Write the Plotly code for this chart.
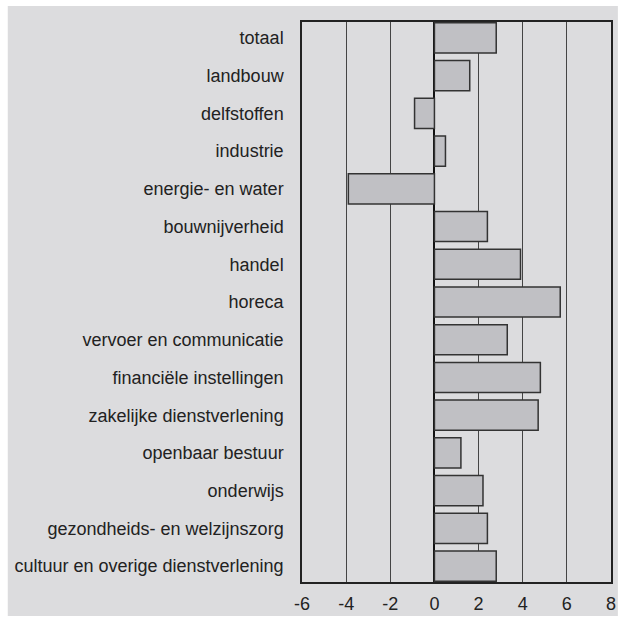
import plotly.graph_objects as go

categories = ["totaal", "landbouw", "delfstoffen", "industrie", "energie- en water",
              "bouwnijverheid", "handel", "horeca", "vervoer en communicatie",
              "financiële instellingen", "zakelijke dienstverlening", "openbaar bestuur",
              "onderwijs", "gezondheids- en welzijnszorg", "cultuur en overige dienstverlening"]
values = [2.8, 1.6, -0.9, 0.5, -3.9, 2.4, 3.9, 5.7, 3.3, 4.8, 4.7, 1.2, 2.2, 2.4, 2.8]
x_ticks = [-6, -4, -2, 0, 2, 4, 6, 8]

W, H = 621, 619
L, R, T, B = 302, 5, 22, 35
pw, ph = W - L - R, H - T - B

fig = go.Figure(go.Bar(
    x=values, y=categories, orientation="h",
    marker=dict(color="#c0c0c4", line=dict(color="#333333", width=1.5)),
))

fig.add_shape(type="rect", xref="paper", yref="paper", layer="below",
              x0=(3 - L) / pw, x1=(W + 2 - L) / pw,
              y0=(H - B - 618) / ph, y1=(H - B - 6) / ph,
              fillcolor="#dcdcde", line=dict(width=0))

n = len(categories)
fig.update_layout(
    width=W, height=H,
    margin=dict(l=L, r=R, t=T, b=B),
    paper_bgcolor="white", plot_bgcolor="white",
    bargap=0.2, showlegend=False,
    font=dict(family="Liberation Sans, Arial, sans-serif", size=18, color="#222222"),
    xaxis=dict(range=[-6, 8], tickvals=x_ticks, ticktext=[str(v) for v in x_ticks],
               showgrid=True, gridcolor="#444444", gridwidth=1,
               zeroline=True, zerolinecolor="#111111", zerolinewidth=2,
               showline=True, linecolor="#222222", linewidth=1.5, mirror=True,
               ticks="", ticklabelstandoff=5, fixedrange=True),
    yaxis=dict(range=[n - 1 + 0.42, -0.42], showgrid=False, zeroline=False,
               showline=True, linecolor="#222222", linewidth=1.5, mirror=True,
               ticks="", ticklabelstandoff=13, fixedrange=True),
)

fig.write_html("out.html", config={"displayModeBar": False},
               post_script="document.body.style.margin='0';document.body.style.overflow='hidden';")
